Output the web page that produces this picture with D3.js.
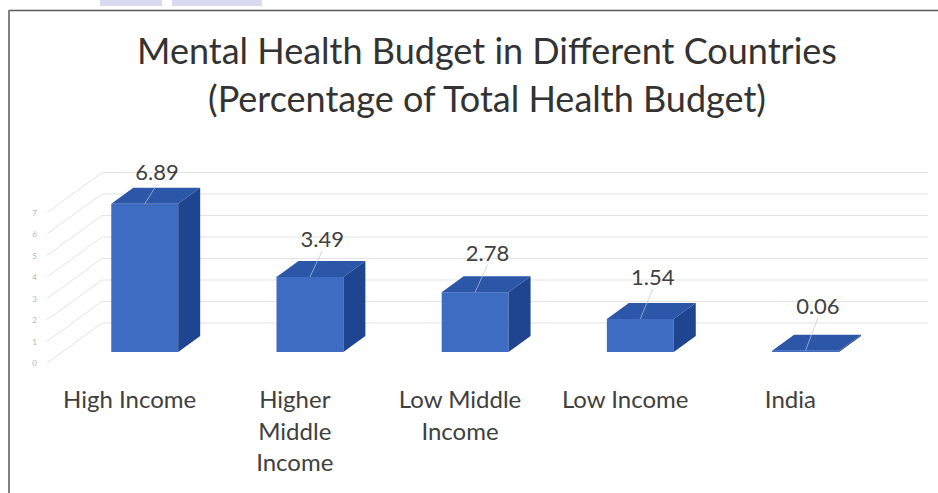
<!DOCTYPE html>
<html>
<head>
<meta charset="utf-8">
<script src="https://cdn.jsdelivr.net/npm/d3@7"></script>
<style>
  body { margin: 0; background: #fff; }
  svg { display: block; font-family: Lato, "Noto Sans", sans-serif; }
</style>
</head>
<body>
<div id="chart"></div>
<script>
// mental health budget, % of total health budget

const svgWidth = 938;
const svgHeight = 493;

// data
const categories = ["High Income", "Higher Middle Income", "Low Middle Income", "Low Income", "India"];
const budgetShare = [6.89, 3.49, 2.78, 1.54, 0.06];
const tickValues = [0, 1, 2, 3, 4, 5, 6, 7];
const titleLines = ["Mental Health Budget in Different Countries", "(Percentage of Total Health Budget)"];
// how the category names are broken over lines
const labelLines = [["High Income"], ["Higher", "Middle", "Income"], ["Low Middle", "Income"], ["Low Income"], ["India"]];

// fake 3d: depth vector of the plot box
const depthX = 55;
const depthY = 40;
const zFront = 0.275;
const zBack = 0.675;

const svg = d3.select("#chart")
    .append("svg")
    .attr("width", svgWidth)
    .attr("height", svgHeight);

// frame bits of the screenshot
svg.append("line")
    .attr("x1", 9).attr("x2", svgWidth)
    .attr("y1", 10.5).attr("y2", 10.5)
    .attr("stroke", "#5a5a5a").attr("stroke-width", 1.5);
svg.append("line")
    .attr("x1", 9).attr("x2", 9)
    .attr("y1", 10).attr("y2", svgHeight)
    .attr("stroke", "#808080").attr("stroke-width", 2);
svg.append("rect").attr("x", 100).attr("y", 0).attr("width", 62).attr("height", 6).attr("fill", "#d9d9f0");
svg.append("rect").attr("x", 172).attr("y", 0).attr("width", 90).attr("height", 6).attr("fill", "#d9d9f0");

// scales (floor front edge)
const x = d3.scaleBand()
    .domain(categories)
    .range([47, 873])
    .paddingInner(0.595)
    .paddingOuter(0.2975);

const y = d3.scaleLinear()
    .domain([0, 7])
    .range([363, 212.5]);

// value labels sit on their own slope
const labelY = d3.scaleLinear()
    .domain([0, 7])
    .range([315, 178]);

// gridlines: left wall diagonal + back wall
const grid = svg.append("g").attr("stroke", "#e3e3e3").attr("stroke-width", 1).attr("fill", "none");

grid.selectAll(".wall")
    .data(tickValues)
    .enter()
    .append("path")
    .attr("d", d => `M47,${y(d)} L${47 + depthX},${y(d) - depthY} L${873 + depthX},${y(d) - depthY}`);

svg.append("g")
    .selectAll("text")
    .data(tickValues)
    .enter()
    .append("text")
    .attr("x", 37)
    .attr("y", d => y(d) + 3)
    .attr("text-anchor", "end")
    .attr("font-size", 8)
    .attr("fill", "#b5b5b5")
    .text(d => d);

// bars
const dx = (zBack - zFront) * depthX;
const dy = (zBack - zFront) * depthY;
const bw = x.bandwidth();

const bars = svg.append("g")
    .selectAll("g")
    .data(categories)
    .enter()
    .append("g");

bars.each(function(c, i) {
    const g = d3.select(this);
    const x1 = x(c) + zFront * depthX;
    const yt = y(budgetShare[i]) - zFront * depthY;
    const yb = y(0) - zFront * depthY;

    g.append("rect")
        .attr("x", x1)
        .attr("y", yt)
        .attr("width", bw)
        .attr("height", yb - yt)
        .attr("fill", "#3d6cc2");

    g.append("path")
        .attr("d", `M${x1},${yt} L${x1 + bw},${yt} L${x1 + bw + dx},${yt - dy} L${x1 + dx},${yt - dy} Z`)
        .attr("fill", "#2c57a8");

    g.append("path")
        .attr("d", `M${x1 + bw},${yt} L${x1 + bw + dx},${yt - dy} L${x1 + bw + dx},${yb - dy} L${x1 + bw},${yb} Z`)
        .attr("fill", "#1f4590");

    // leader line from bar top to the label
    const lx = x(c) + bw / 2 + depthX * 0.5;
    g.append("line")
        .attr("x1", x1 + bw / 2)
        .attr("y1", yt)
        .attr("x2", lx)
        .attr("y2", labelY(budgetShare[i]) + 4)
        .attr("stroke", "#b8c6e0")
        .attr("stroke-width", 1)
        .attr("opacity", 0.7);

    g.append("text")
        .attr("x", lx)
        .attr("y", labelY(budgetShare[i]))
        .attr("text-anchor", "middle")
        .attr("font-size", 22)
        .attr("fill", "#404040")
        .text(budgetShare[i].toFixed(2));
});

// category labels
const catLabels = svg.append("g")
    .selectAll("text")
    .data(categories)
    .enter()
    .append("text")
    .attr("text-anchor", "middle")
    .attr("font-size", 24)
    .attr("fill", "#404040");

catLabels.each(function(c, i) {
    d3.select(this).selectAll("tspan")
        .data(labelLines[i])
        .enter()
        .append("tspan")
        .attr("x", x(c) + bw / 2)
        .attr("y", (d, j) => 408 + j * 31.5)
        .text(d => d);
});

// title
svg.append("g")
    .selectAll("text")
    .data(titleLines)
    .enter()
    .append("text")
    .attr("x", 487)
    .attr("y", (d, i) => 64 + i * 48)
    .attr("text-anchor", "middle")
    .attr("font-size", 36)
    .attr("fill", "#333333")
    .text(d => d);
</script>
</body>
</html>
